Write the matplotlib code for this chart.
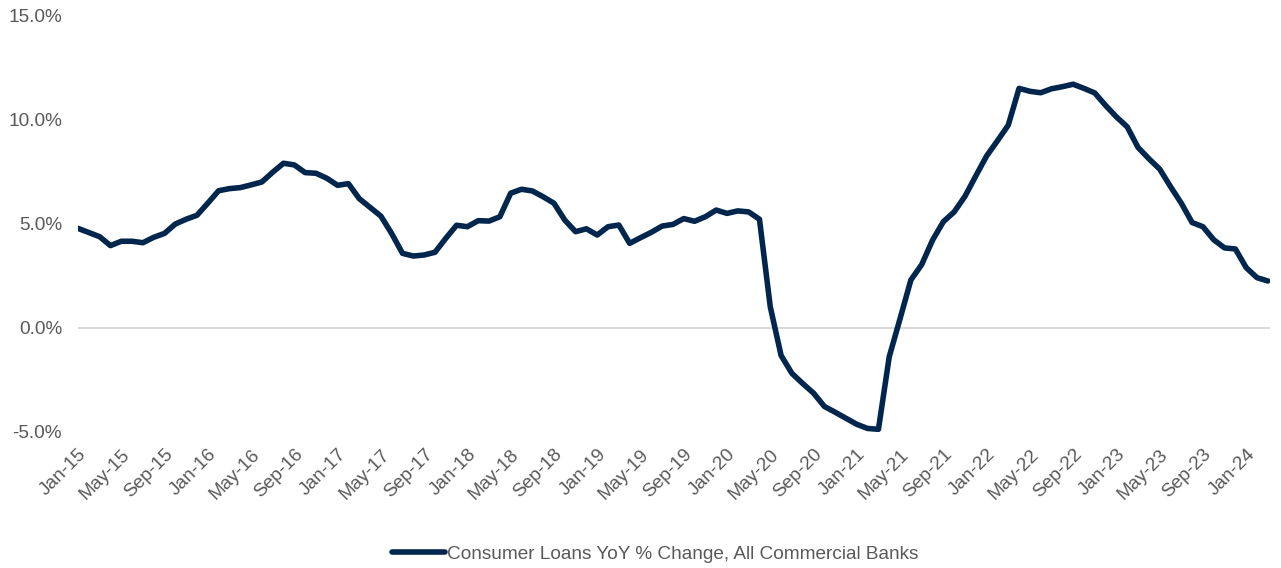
import matplotlib
matplotlib.use("Agg")
import matplotlib.pyplot as plt
from matplotlib.ticker import FuncFormatter, FixedLocator

plt.rcParams['font.family'] = ['Liberation Sans', 'DejaVu Sans']

# Monthly YoY % change, Jan-2015 through Mar-2024
yoy_change = [
    4.79, 4.59, 4.39, 3.96, 4.17, 4.17, 4.10, 4.36, 4.55, 5.00, 5.23, 5.42,
    6.00, 6.60, 6.70, 6.75, 6.88, 7.02, 7.49, 7.92, 7.84, 7.47, 7.44, 7.20,
    6.86, 6.94, 6.22, 5.80, 5.38, 4.54, 3.59, 3.46, 3.51, 3.64, 4.31, 4.94,
    4.87, 5.16, 5.14, 5.35, 6.48, 6.67, 6.59, 6.31, 6.00, 5.19, 4.63, 4.77,
    4.47, 4.87, 4.95, 4.07, 4.34, 4.60, 4.90, 4.98, 5.26, 5.13, 5.35, 5.67,
    5.51, 5.63, 5.58, 5.23, 1.02, -1.32, -2.18, -2.67, -3.13, -3.77, -4.05, -4.34,
    -4.63, -4.83, -4.87, -1.38, 0.45, 2.31, 3.05, 4.22, 5.11, 5.58, 6.33, 7.31,
    8.27, 9.00, 9.75, 11.52, 11.38, 11.31, 11.50, 11.60, 11.72, 11.52, 11.30, 10.70,
    10.15, 9.67, 8.68, 8.14, 7.64, 6.80, 6.00, 5.07, 4.87, 4.24, 3.85, 3.80,
    2.90, 2.42, 2.26,
]

month_names = ["Jan", "Feb", "Mar", "Apr", "May", "Jun",
               "Jul", "Aug", "Sep", "Oct", "Nov", "Dec"]
month_labels = [f"{month_names[i % 12]}-{15 + i // 12}" for i in range(len(yoy_change))]

series_name = "Consumer Loans YoY % Change, All Commercial Banks"
y_ticks = [-5, 0, 5, 10, 15]

line_color = "#00264D"
text_color = "#595959"

W, H = 1281, 568
fig = plt.figure(figsize=(W / 100, H / 100), dpi=100)
ax = fig.add_axes([78 / W, (H - 432) / H, (1270 - 78) / W, (432 - 16) / H])

x = list(range(len(yoy_change)))
line, = ax.plot(x, yoy_change, color=line_color, lw=4.0,
                solid_joinstyle="round", solid_capstyle="round",
                label=series_name, zorder=3)

ax.axhline(0, color="#D9D9D9", lw=1.5, zorder=1)

ax.set_xlim(0, len(yoy_change) - 1 + 0.2)
ax.set_ylim(-5, 15)

for s in ax.spines.values():
    s.set_visible(False)

ax.yaxis.set_major_locator(FixedLocator(y_ticks))
ax.yaxis.set_major_formatter(FuncFormatter(lambda v, p: f"{v:.1f}%"))
ax.tick_params(axis="y", length=0, pad=11.5, labelsize=13.7, labelcolor=text_color)

tick_idx = list(range(0, len(yoy_change), 4))
ax.set_xticks(tick_idx)
ax.set_xticklabels([month_labels[i] for i in tick_idx], rotation=45,
                   ha="right", va="top", rotation_mode="anchor")
ax.tick_params(axis="x", length=0, pad=10, labelsize=13.7, labelcolor=text_color)

fig.legend(handles=[line], loc="center", bbox_to_anchor=(655 / W, 1 - 554 / H),
           frameon=False, fontsize=13.7, labelcolor=text_color,
           handlelength=2.8, handletextpad=0.1)

fig.savefig("out.png", dpi=100, facecolor="white")
